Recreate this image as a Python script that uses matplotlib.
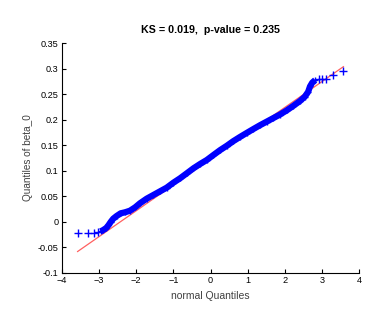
import matplotlib.pyplot as plt

plt.rcParams['font.family'] = ['Liberation Sans', 'DejaVu Sans']

# normal quantiles vs sample quantiles of beta_0
tail_lo_x = [-3.58, -3.29, -3.13, -3.04]
tail_lo_y = [-0.0224, -0.0224, -0.0217, -0.0204]

band_x = [-2.96, -2.89, -2.81, -2.75, -2.69, -2.62, -2.53, -2.42, -2.30, -2.17,
          -2.03, -1.90, -1.72, -1.54, -1.36, -1.18, -1.00, -0.82, -0.64, -0.46,
          -0.28, -0.10, 0.08, 0.26, 0.44, 0.61, 0.79, 0.97, 1.15, 1.33,
          1.51, 1.69, 1.87, 2.05, 2.23, 2.41, 2.54, 2.63, 2.68, 2.74, 2.82]
band_y = [-0.0185, -0.0159, -0.0120, -0.0067, -0.0002, 0.0063, 0.0115, 0.0168, 0.0188, 0.0219,
          0.0285, 0.0364, 0.0454, 0.0526, 0.0598, 0.0670, 0.0767, 0.0853, 0.0950, 0.1048,
          0.1133, 0.1211, 0.1309, 0.1405, 0.1490, 0.1578, 0.1660, 0.1738, 0.1815, 0.1890,
          0.1960, 0.2030, 0.2100, 0.2180, 0.2270, 0.2365, 0.2450, 0.2545, 0.2650, 0.2724, 0.2776]

tail_hi_x = [2.91, 3.00, 3.11, 3.29, 3.58]
tail_hi_y = [0.279, 0.279, 0.2796, 0.2868, 0.2946]

# reference line end points
ref_x = [-3.58, 3.58]
ref_y = [-0.058, 0.3037]

fig = plt.figure(figsize=(3.89, 3.13), dpi=100)
ax = fig.add_axes([0.1594, 0.1278, 0.7635, 0.7348])

ax.plot(ref_x, ref_y, color='#ff6060', lw=0.9, zorder=1)
ax.plot(band_x, band_y, color='#0000ff', lw=4.5, solid_capstyle='butt', zorder=2)
ax.plot(band_x, band_y, '+', color='#0000ff', ms=5, mew=1, zorder=3)
ax.plot(tail_lo_x + tail_hi_x, tail_lo_y + tail_hi_y, '+', color='#0000ff',
        ms=6, mew=1, ls='none', zorder=3)

ax.set_xlim(-4, 4)
ax.set_ylim(-0.1, 0.35)
ax.set_xticks(range(-4, 5))
yt = [-0.1, -0.05, 0, 0.05, 0.1, 0.15, 0.2, 0.25, 0.3, 0.35]
ax.set_yticks(yt)
ax.set_yticklabels(['-0.1', '-0.05', '0', '0.05', '0.1', '0.15', '0.2', '0.25', '0.3', '0.35'])
ax.tick_params(direction='in', length=3, width=0.8, labelsize=6.6, pad=2.5)
for s in ['top', 'right']:
    ax.spines[s].set_visible(False)
for s in ['left', 'bottom']:
    ax.spines[s].set_linewidth(0.8)

ax.set_xlabel('normal Quantiles', fontsize=7.5, color='#404040', labelpad=4)
ax.set_ylabel('Quantiles of beta_0', fontsize=7.2, color='#404040', labelpad=3)
ax.set_title('KS = 0.019,  p-value = 0.235', fontsize=7.7, fontweight='bold', pad=7)

fig.savefig('out.png', dpi=100)
